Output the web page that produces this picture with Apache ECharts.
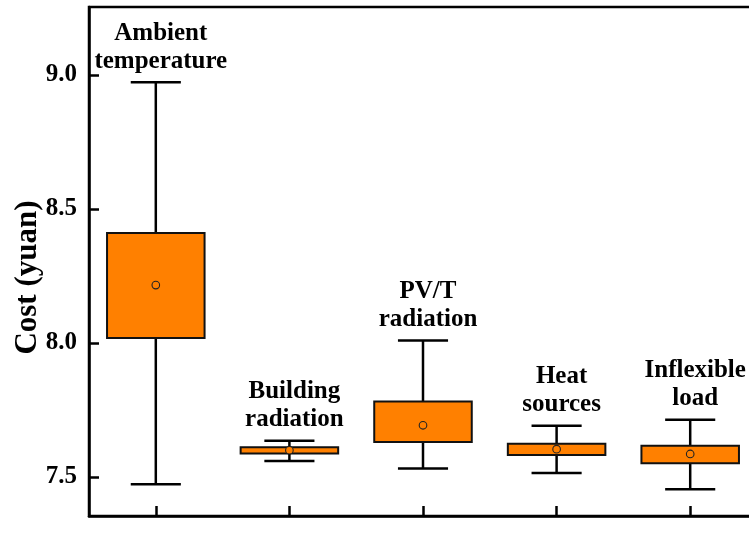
<!DOCTYPE html>
<html>
<head>
<meta charset="utf-8">
<script src="https://cdn.jsdelivr.net/npm/echarts@6/dist/echarts.min.js"></script>
<style>
  html, body { margin: 0; padding: 0; background: #ffffff; overflow: hidden; width: 749px; height: 546px; }
  /* The plot frame runs past the right edge of the page, so the canvas is a bit wider than the window */
  #chart { width: 760px; height: 546px; }
</style>
</head>
<body>
<div id="chart"></div>
<script>
// Uncertainty factors (each label drawn above its box)
const factors = ['Ambient\ntemperature', 'Building\nradiation', 'PV/T\nradiation', 'Heat\nsources', 'Inflexible\nload'];

// Cost statistics per factor (yuan)
const whiskerMax = [8.973, 7.635, 8.009, 7.691, 7.714];
const boxUpper   = [8.410, 7.611, 7.782, 7.624, 7.617];
const boxLower   = [8.019, 7.588, 7.631, 7.582, 7.551];
const whiskerMin = [7.473, 7.560, 7.532, 7.515, 7.454];
const meanCost   = [8.216, 7.600, 7.693, 7.604, 7.586];

// Y axis range and tick labels
const yMin = 7.3545;
const yMax = 9.2537;
const yTickLabels = ['7.5', '8.0', '8.5', '9.0'];

const FONT = '"Liberation Serif", "Times New Roman", "DejaVu Serif", serif';
const ORANGE = '#FF8000';

const seriesData = factors.map((name, i) => [i, whiskerMin[i], boxLower[i], boxUpper[i], whiskerMax[i], meanCost[i]]);

function renderBox(params, api) {
  const idx = api.value(0);
  const pMin = api.coord([idx, api.value(1)]);
  const pQ1 = api.coord([idx, api.value(2)]);
  const pQ3 = api.coord([idx, api.value(3)]);
  const pMax = api.coord([idx, api.value(4)]);
  const pMean = api.coord([idx, api.value(5)]);
  const band = api.size([1, 0])[0];
  const boxW = band * 0.73;
  const capW = band * 0.375;
  const cx = pMin[0];
  const lineStyle = { stroke: '#000', lineWidth: 2.5 };
  return {
    type: 'group',
    children: [
      { type: 'line', shape: { x1: cx, y1: pMax[1], x2: cx, y2: pQ3[1] }, style: lineStyle },
      { type: 'line', shape: { x1: cx, y1: pQ1[1], x2: cx, y2: pMin[1] }, style: lineStyle },
      { type: 'line', shape: { x1: cx - capW / 2, y1: pMax[1], x2: cx + capW / 2, y2: pMax[1] }, style: lineStyle },
      { type: 'line', shape: { x1: cx - capW / 2, y1: pMin[1], x2: cx + capW / 2, y2: pMin[1] }, style: lineStyle },
      { type: 'rect', shape: { x: cx - boxW / 2, y: pQ3[1], width: boxW, height: pQ1[1] - pQ3[1] },
        style: { fill: ORANGE, stroke: '#111', lineWidth: 2 } },
      { type: 'circle', shape: { cx: pMean[0], cy: pMean[1], r: 3.8 },
        style: { fill: ORANGE, stroke: '#222', lineWidth: 1.1 } },
      { type: 'text', x: cx + 5, y: pMax[1] - 7,
        style: { text: factors[idx], font: 'bold 25px ' + FONT, fill: '#000',
                 align: 'center', verticalAlign: 'bottom', lineHeight: 28 } }
    ]
  };
}

const chart = echarts.init(document.getElementById('chart'), null, { renderer: 'canvas' });
chart.setOption({
  animation: false,
  backgroundColor: '#ffffff',
  grid: {
    left: 89, top: 7, width: 668, height: 509,
    outerBoundsMode: 'none',
    containLabel: false,
    show: true, borderColor: '#000', borderWidth: 2.5, backgroundColor: 'transparent'
  },
  xAxis: {
    type: 'category',
    data: factors,
    boundaryGap: true,
    axisLine: { show: true, lineStyle: { color: '#000', width: 2.5 } },
    axisTick: { show: true, inside: true, alignWithLabel: true, length: 10, lineStyle: { color: '#000', width: 2.5 } },
    axisLabel: { show: false },
    splitLine: { show: false }
  },
  yAxis: {
    type: 'value',
    min: yMin,
    max: yMax,
    minInterval: 0.5,
    maxInterval: 0.5,
    name: 'Cost (yuan)',
    nameLocation: 'middle',
    nameGap: 46,
    nameMoveOverlap: false,
    nameRotate: 90,
    nameTextStyle: { fontFamily: FONT, fontWeight: 'bold', fontSize: 31, color: '#000', padding: [0, 32, 0, 0] },
    axisLine: { show: true, lineStyle: { color: '#000', width: 2.5 } },
    axisTick: { show: true, inside: true, length: 10, lineStyle: { color: '#000', width: 2.5 } },
    axisLabel: {
      show: true, margin: 12, showMinLabel: false, showMaxLabel: false,
      fontFamily: FONT, fontWeight: 'bold', fontSize: 25, color: '#000',
      formatter: function (v) {
        const s = v.toFixed(1);
        return yTickLabels.indexOf(s) >= 0 && Math.abs(v - parseFloat(s)) < 1e-6 ? s : '';
      }
    },
    splitLine: { show: false }
  },
  series: [{
    type: 'custom',
    renderItem: renderBox,
    data: seriesData,
    encode: { x: 0, y: [1, 2, 3, 4, 5] },
    clip: false
  }]
});
</script>
</body>
</html>
